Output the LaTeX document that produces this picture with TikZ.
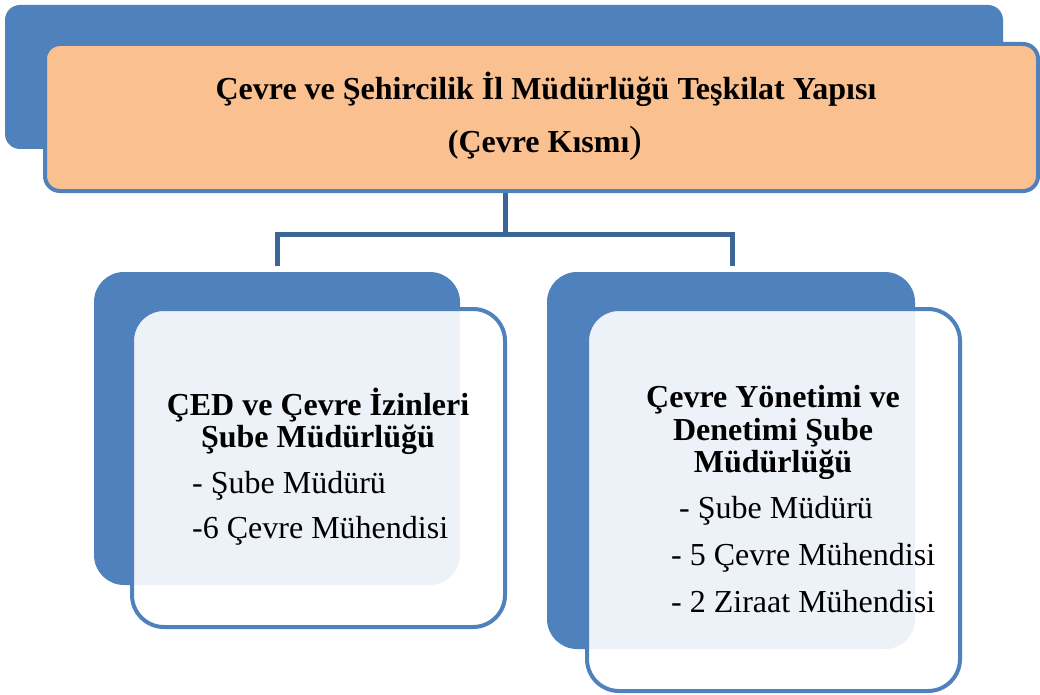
\documentclass[tikz,border=0pt]{standalone}
\usepackage{fontspec}
\setmainfont{Liberation Serif}
\definecolor{ofblue}{HTML}{4F81BD}
\definecolor{lnblue}{HTML}{3D6698}
\definecolor{ofpeach}{HTML}{FAC090}
\tikzset{
  backbox/.style={fill=ofblue, draw=none},
  frontbox/.style={fill=white, fill opacity=0.9, draw=ofblue, line width=4pt},
  titlebox/.style={fill=ofpeach, draw=ofblue, line width=4pt},
  conn/.style={draw=lnblue, line width=5pt},
  boldtxt/.style={font=\fontsize{32}{35}\selectfont\bfseries, anchor=base, inner sep=0pt},
  itemtxt/.style={font=\fontsize{32}{35}\selectfont, anchor=base west, inner sep=0pt},
}
\begin{document}
\begin{tikzpicture}[x=1pt,y=-1pt]
\useasboundingbox (0,0) rectangle (1040,695);
% top boxes
\fill[backbox, rounded corners=15pt] (5,5) rectangle (1003,149);
\draw[titlebox, rounded corners=15pt] (45,44) rectangle (1038,191);
\node[boldtxt] (t1) at (546,100) {Çevre ve Şehircilik İl Müdürlüğü Teşkilat Yapısı};
\node[boldtxt] (t2) at (545,153) {(Çevre Kısmı{\fontsize{38}{40}\selectfont\mdseries)}};
\coordinate (top) at (505,193);
% connectors
\coordinate (jl) at (277,234);
\coordinate (jr) at (732,234);
\coordinate (cl) at (277,266);
\coordinate (cr) at (732,266);
\draw[conn] (top) -- (505,234);
\draw[conn] (cl) -- (jl) -- (jr) -- (cr);
% left box
\fill[backbox, rounded corners=30pt] (94,272) rectangle (460,585);
\draw[frontbox, rounded corners=32pt] (132,309) rectangle (505,627);
\node[boldtxt] (l1a) at (318,415) {ÇED ve Çevre İzinleri};
\node[boldtxt] (l1b) at (318,447) {Şube Müdürlüğü};
\node[itemtxt] (l2) at (192,493) {- Şube Müdürü};
\node[itemtxt] (l3) at (192,538) {-6 Çevre Mühendisi};
% right box
\fill[backbox, rounded corners=30pt] (547,272) rectangle (915,649);
\draw[frontbox, rounded corners=32pt] (587,309) rectangle (960,691);
\node[boldtxt] (r1a) at (773,407) {Çevre Yönetimi ve};
\node[boldtxt] (r1b) at (773,440) {Denetimi Şube};
\node[boldtxt] (r1c) at (773,472) {Müdürlüğü};
\node[itemtxt] (r2) at (679,518) {- Şube Müdürü};
\node[itemtxt] (r3) at (671,565) {- 5 Çevre Mühendisi};
\node[itemtxt] (r4) at (671,612) {- 2 Ziraat Mühendisi};
\end{tikzpicture}
\end{document}
